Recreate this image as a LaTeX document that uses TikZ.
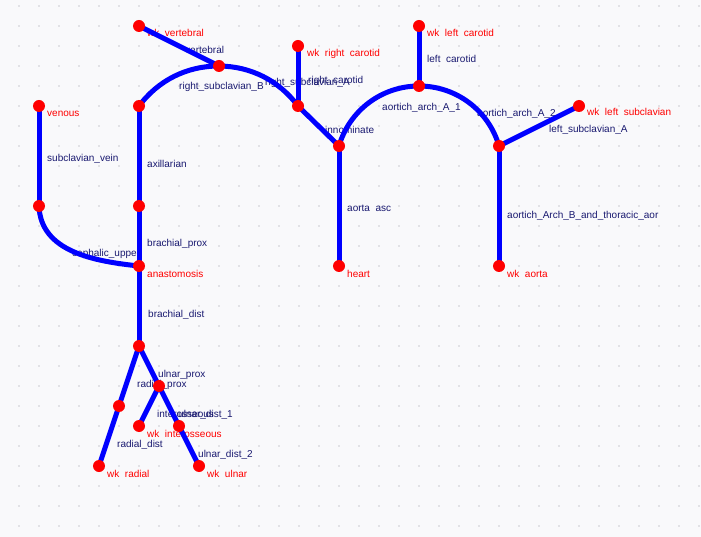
\documentclass[tikz,border=0pt]{standalone}
\usepackage{fontspec}
\setmainfont{Liberation Sans}
\definecolor{bgc}{RGB}{249,249,251}
\definecolor{dotc}{RGB}{226,226,230}
\definecolor{lblc}{RGB}{25,25,112}
\definecolor{edgec}{RGB}{0,0,255}
\definecolor{nodec}{RGB}{255,0,0}
\pgfdeclarelayer{base}
\pgfdeclarelayer{lbl}
\pgfdeclarelayer{edges}
\pgfsetlayers{base,lbl,edges,main}
\begin{document}
\begin{tikzpicture}[x=1pt,y=1pt,
  vnode/.style={circle,fill=nodec,minimum size=12pt,inner sep=0pt},
  vessel/.style={draw=edgec,line width=5pt},
  elabel/.style={anchor=base west,inner sep=0pt,text=lblc,font=\fontsize{10}{12}\selectfont},
  nlabel/.style={elabel,text=nodec}]
\useasboundingbox (0,0) rectangle (701,-537);
\begin{pgfonlayer}{base}
  \fill[bgc] (0,0) rectangle (701,-537);
  \foreach \i in {0,...,34} \foreach \j in {0,...,26}
    \fill[dotc] (18+20*\i,-5-20*\j) rectangle ++(2,-2);
\end{pgfonlayer}

% vessel nodes
\node[vnode] (wkvert) at (139,-26) {};
\node[vnode] (vj) at (219,-66) {};
\node[vnode] (wkrc) at (298,-46) {};
\node[vnode] (rcj) at (298,-106) {};
\node[vnode] (inn) at (339,-146) {};
\node[vnode] (wklc) at (419,-26) {};
\node[vnode] (lcj) at (419,-86) {};
\node[vnode] (lsj) at (499,-146) {};
\node[vnode] (wkls) at (579,-106) {};
\node[vnode] (heart) at (339,-266) {};
\node[vnode] (wkao) at (499,-266) {};
\node[vnode] (venous) at (39,-106) {};
\node[vnode] (ax1) at (139,-106) {};
\node[vnode] (sv2) at (39,-206) {};
\node[vnode] (ax2) at (139,-206) {};
\node[vnode] (ana) at (139,-266) {};
\node[vnode] (bd) at (139,-346) {};
\node[vnode] (rm) at (119,-406) {};
\node[vnode] (wkrad) at (99,-466) {};
\node[vnode] (up) at (159,-386) {};
\node[vnode] (wkint) at (139,-426) {};
\node[vnode] (um) at (179,-426) {};
\node[vnode] (wkuln) at (199,-466) {};

% connectors
\begin{pgfonlayer}{edges}
  \draw[vessel] (wkvert.center) -- (vj.center);
  \draw[vessel] (ax1.center) to[bend left=26.6,looseness=0.92] (vj.center);
  \draw[vessel] (vj.center) to[bend left=26.4,looseness=0.92] (rcj.center);
  \draw[vessel] (wkrc.center) -- (rcj.center);
  \draw[vessel] (rcj.center) -- (inn.center);
  \draw[vessel] (inn.center) to[bend left=36.9,looseness=0.95] (lcj.center);
  \draw[vessel] (lcj.center) to[bend left=36.9,looseness=0.95] (lsj.center);
  \draw[vessel] (wklc.center) -- (lcj.center);
  \draw[vessel] (lsj.center) -- (wkls.center);
  \draw[vessel] (inn.center) -- (heart.center);
  \draw[vessel] (lsj.center) -- (wkao.center);
  \draw[vessel] (venous.center) -- (sv2.center);
  \draw[vessel] (ax1.center) -- (ax2.center);
  \draw[vessel] (sv2.center) to[out=-88,in=174] (ana.center);
  \draw[vessel] (ax2.center) -- (ana.center);
  \draw[vessel] (ana.center) -- (bd.center);
  \draw[vessel] (bd.center) -- (rm.center);
  \draw[vessel] (rm.center) -- (wkrad.center);
  \draw[vessel] (bd.center) -- (up.center);
  \draw[vessel] (up.center) -- (wkint.center);
  \draw[vessel] (up.center) -- (um.center);
  \draw[vessel] (um.center) -- (wkuln.center);
\end{pgfonlayer}

% labels
\begin{pgfonlayer}{lbl}
  \node[nlabel] (l1) at (147,-37) {wk\ \ vertebral};
  \node[elabel] (l2) at (185,-54) {vertebral};
  \node[nlabel] (l3) at (307,-57) {wk\ \ right\ \ carotid};
  \node[elabel] (l4) at (179,-90) {right\_subclavian\_B};
  \node[elabel] (l5) at (265,-86) {right\_subclavian\_A};
  \node[elabel] (l6) at (308,-84) {right\ \ carotid};
  \node[elabel] (l7) at (325,-134) {innominate};
  \node[nlabel] (l8) at (427,-37) {wk\ \ left\ \ carotid};
  \node[elabel] (l9) at (427,-63) {left\ \ carotid};
  \node[elabel] (l10) at (382,-111) {aortich\_arch\_A\_1};
  \node[elabel] (l11) at (477,-117) {aortich\_arch\_A\_2};
  \node[nlabel] (l12) at (587,-116) {wk\ \ left\ \ subclavian};
  \node[elabel] (l13) at (549,-133) {left\_subclavian\_A};
  \node[elabel] (l14) at (347,-212) {aorta\ \ asc};
  \node[elabel] (l15) at (507,-219) {aortich\_Arch\_B\_and\_thoracic\_aor};
  \node[nlabel] (l16) at (347,-277) {heart};
  \node[nlabel] (l17) at (507,-277) {wk\ \ aorta};
  \node[nlabel] (l18) at (47,-117) {venous};
  \node[elabel] (l19) at (47,-162) {subclavian\_vein};
  \node[elabel] (l20) at (147,-168) {axillarian};
  \node[elabel] (l21) at (147,-247) {brachial\_prox};
  \node[elabel] (l22) at (72,-257) {cephalic\_upper};
  \node[nlabel] (l23) at (147,-277) {anastomosis};
  \node[elabel] (l24) at (148,-317) {brachial\_dist};
  \node[elabel] (l25) at (158,-377) {ulnar\_prox};
  \node[elabel] (l26) at (137,-387) {radial\_prox};
  \node[elabel] (l27) at (157,-417) {interosseous};
  \node[elabel] (l28) at (178,-417) {ulnar\_dist\_1};
  \node[nlabel] (l29) at (147,-437) {wk\ \ interosseous};
  \node[elabel] (l30) at (117,-447) {radial\_dist};
  \node[elabel] (l31) at (198,-457) {ulnar\_dist\_2};
  \node[nlabel] (l32) at (107,-477) {wk\ \ radial};
  \node[nlabel] (l33) at (207,-477) {wk\ \ ulnar};
\end{pgfonlayer}
\end{tikzpicture}
\end{document}
